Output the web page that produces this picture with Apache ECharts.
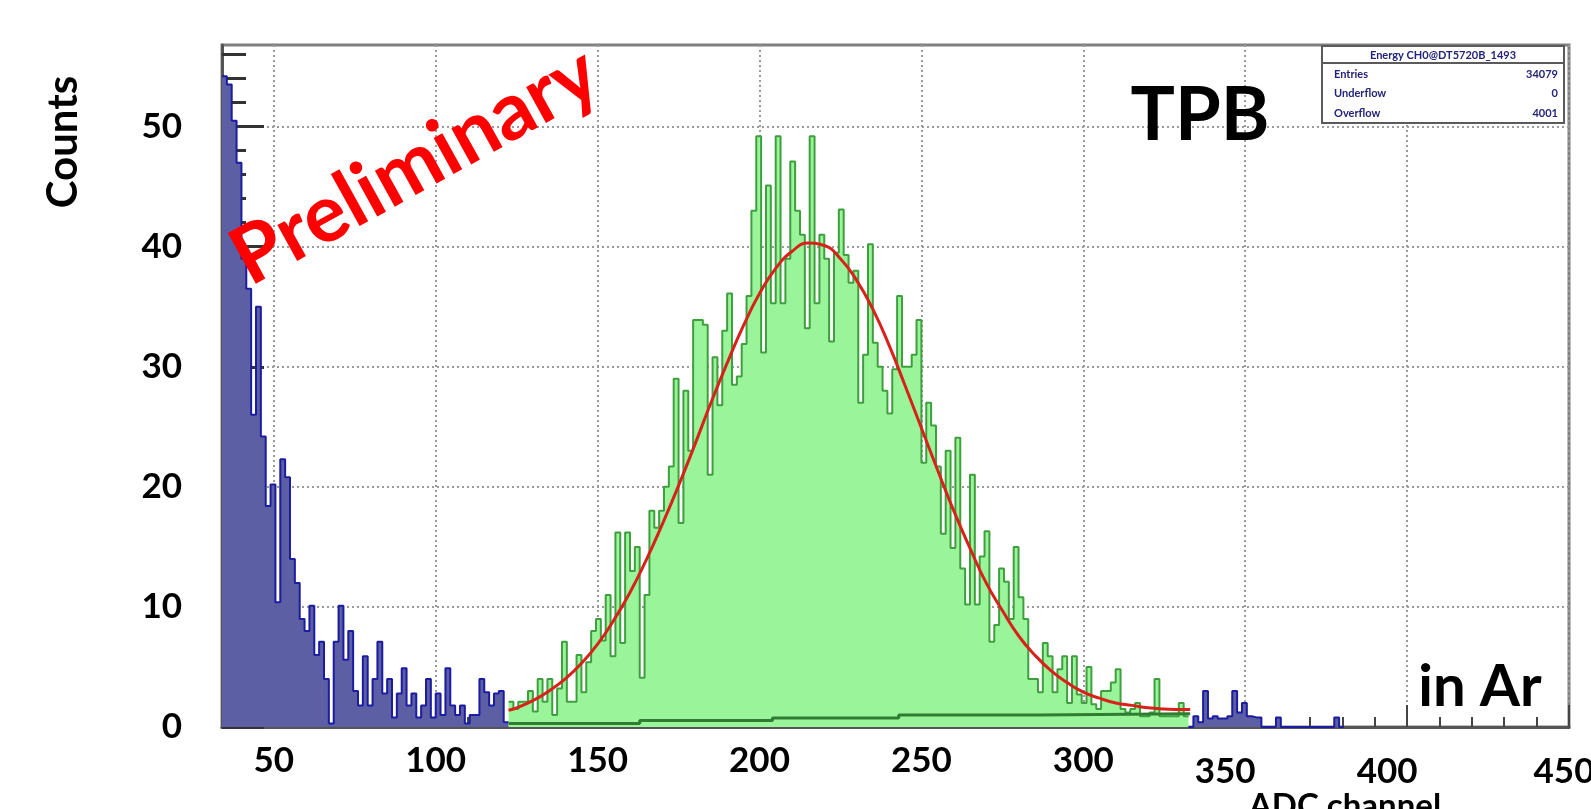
<!DOCTYPE html>
<html>
<head>
<meta charset="utf-8">
<title>TPB in Ar - ADC spectrum</title>
<script src="https://cdn.jsdelivr.net/npm/echarts@6/dist/echarts.min.js"></script>
<style>
  html, body { margin: 0; padding: 0; background: #fff; }
  #main { width: 1591px; height: 809px; }
</style>
</head>
<body>
<div id="main"></div>
<script>
// histogram bins (ADC channel), width 1.5
var binWidth = 1.5;

// low-energy part, blue, bins from 34
var blueStart = 34;
var blueCounts = [
  54.2, 53.5, 50.5, 47, 39, 36.5, 26, 35, 24.2, 18.4,
  20.2, 10.4, 22.3, 20.8, 14, 12, 9, 8, 10.1, 6,
  7.1, 4, 0.3, 7.1, 10.1, 5.6, 8, 3, 1.8, 5.9,
  1.8, 4, 7.1, 2.8, 4, 0.8, 2.8, 4.9, 1.8, 2.8,
  0.8, 1.8, 4, 0.8, 2.8, 1, 4.9, 1.8, 1, 1.8,
  0.3, 1, 1, 4, 2.9, 1.8, 2.8, 3, 0.4
];

// fit range, green, bins from 122.5
var greenStart = 122.5;
var greenCounts = [
  2.1, 1.5, 2.1, 2.1, 3, 1.3, 4, 2.1, 4, 1,
  3.2, 7.1, 2.1, 2.1, 6, 2.9, 5.4, 8, 9, 7.2,
  11, 5.9, 16.2, 7, 16.2, 13, 15, 4.1, 11, 18,
  16.6, 18, 20, 21.7, 29, 17, 28, 23, 33.9, 33.9,
  33.5, 21, 30.8, 26.8, 33, 36.1, 28.5, 29.2, 31.9, 35.9,
  43, 49.2, 31.2, 45.1, 35.3, 49.2, 35.3, 39, 47.1, 43,
  41, 33.2, 49.2, 35.3, 41, 39, 32.1, 39.5, 43.1, 39.3,
  37, 38, 27, 31, 40.2, 32, 30, 28, 26.1, 29.8,
  35.9, 30, 30, 31, 33.9, 22, 27, 25.1, 21.7, 16.1,
  23, 14.9, 24.1, 13.2, 10.2, 21, 10.2, 14.2, 16.3, 7.1,
  8.5, 13.2, 12.1, 9, 15, 10.8, 9, 4, 4, 2.9,
  7, 5.9, 2.9, 4.8, 5.9, 2, 5.9, 2.7, 2, 5,
  1.9, 1.5, 3, 3, 3.7, 4.8, 1.5, 1.2, 1.5, 2,
  0.9, 0.9, 1.2, 4, 0.9, 0.9, 0.9, 0.9, 2, 0.9
];

// high side, blue again, bins from 332.5
var tailStart = 332.5;
var tailCounts = [
  0, 0.9, 0.4, 3, 0.7, 0.9, 0.7, 0.7, 0.9, 3,
  1.2, 2, 0.9, 0.8, 0.8, 0, 0, 0, 0.8, 0,
  0, 0, 0, 0, 0, 0, 0, 0, 0, 0,
  0.8, 0
];

// gaussian fit (red)
var fitX = [122.5, 125, 130, 135, 140, 145, 150, 155, 160, 165, 170, 175, 180, 185, 190, 195,
  200, 205, 210, 215, 220, 225, 230, 235, 240, 245, 250, 255, 260, 265, 270, 275,
  280, 285, 290, 295, 300, 305, 310, 315, 320, 325, 330, 333];
var fitY = [1.4, 1.6, 2.2, 3.0, 4.0, 5.3, 6.9, 8.9, 11.2, 13.9, 16.9, 20.1, 23.5, 27.0, 30.3, 33.4,
  36.1, 38.2, 39.6, 40.3, 40.1, 39.0, 37.2, 34.8, 31.8, 28.4, 24.9, 21.4, 18.0, 14.9, 12.0, 9.7,
  7.6, 6.0, 4.7, 3.7, 2.9, 2.4, 2.0, 1.8, 1.6, 1.5, 1.45, 1.45];

// background level under the peak (dark green)
var bgX = [122.5, 163, 204, 243, 286, 333];
var bgY = [0.3, 0.55, 0.75, 1.0, 1.1, 1.1];

var xTickValues = [50, 100, 150, 200, 250, 300, 350, 400, 450];
var xMinorTickValues = [40, 50, 60, 70, 80, 90, 100, 110, 120, 130, 140, 150, 160, 170, 180, 190,
  200, 210, 220, 230, 240, 250, 260, 270, 280, 290, 300, 310, 320, 330, 340, 350, 360, 370,
  380, 390, 400, 410, 420, 430, 440, 450];
var yTickValues = [0, 10, 20, 30, 40, 50];
var yMinorTickValues = [0, 2, 4, 6, 8, 10, 12, 14, 16, 18, 20, 22, 24, 26, 28, 30, 32, 34, 36,
  38, 40, 42, 44, 46, 48, 50, 52, 54, 56];

var stats = [
  ['Entries', '34079'],
  ['Underflow', '0'],
  ['Overflow', '4001']
];

function stepData(start, counts) {
  var d = [];
  for (var i = 0; i < counts.length; i++) {
    d.push([start + i * binWidth, counts[i]]);
  }
  d.push([start + counts.length * binWidth, counts[counts.length - 1]]);
  return d;
}
function pairs(xs, ys) {
  return xs.map(function (x, i) { return [x, ys[i]]; });
}

var font = 'Lato, "Open Sans", sans-serif';
var gridLine = { show: true, lineStyle: { color: '#9a9a9a', width: 2, type: [2, 3] } };
var tickFont = { fontFamily: font, fontWeight: 'bold', fontSize: 35, color: '#000' };

var myChart = echarts.init(document.getElementById('main'));

var statsGraphics = [
  { type: 'rect', shape: { x: 1322, y: 46, width: 242, height: 77 },
    style: { fill: '#fff', stroke: '#5a5a5a', lineWidth: 2 }, z: 100 },
  { type: 'line', shape: { x1: 1322, y1: 63, x2: 1564, y2: 63 },
    style: { stroke: '#5a5a5a', lineWidth: 2 }, z: 101 },
  { type: 'text', x: 1443, y: 55, z: 101,
    style: { text: 'Energy CH0@DT5720B_1493', fill: '#23237a', font: 'bold 11px ' + font,
      align: 'center', textAlign: 'center', verticalAlign: 'middle', textVerticalAlign: 'middle' } }
];
stats.forEach(function (row, i) {
  statsGraphics.push({ type: 'text', x: 1334, y: 74 + i * 19.5, z: 101,
    style: { text: row[0], fill: '#23237a', font: 'bold 11px ' + font,
      align: 'left', textAlign: 'left', verticalAlign: 'middle', textVerticalAlign: 'middle' } });
  statsGraphics.push({ type: 'text', x: 1558, y: 74 + i * 19.5, z: 101,
    style: { text: row[1], fill: '#23237a', font: 'bold 11px ' + font,
      align: 'right', textAlign: 'right', verticalAlign: 'middle', textVerticalAlign: 'middle' } });
});

function label(text, x, y, size, color, rot) {
  return {
    type: 'text', x: x, y: y, rotation: rot || 0, z: 120,
    style: { text: text, fill: color, font: 'bold ' + size + 'px ' + font,
      align: 'center', textAlign: 'center', verticalAlign: 'middle', textVerticalAlign: 'middle' }
  };
}

var option = {
  animation: false,
  backgroundColor: '#fff',
  grid: {
    left: 222, right: 22, top: 45, bottom: 82,
    outerBoundsMode: 'none',
    containLabel: false,
    show: true, backgroundColor: '#fff', borderColor: '#808080', borderWidth: 3
  },
  xAxis: [
    {
      type: 'value', min: 34, max: 450, position: 'bottom',
      axisLine: { show: true, onZero: false, lineStyle: { color: '#555', width: 3 } },
      axisTick: { show: true, inside: true, length: 22, customValues: xTickValues,
        lineStyle: { color: '#444', width: 2 } },
      axisLabel: {
        show: true, customValues: xTickValues, margin: 16, hideOverlap: false,
        fontFamily: font, fontWeight: 'bold', fontSize: 35, color: '#000',
        formatter: function (v) {
          if (v === 350 || v === 400) return '{s|' + v + '}';
          if (v === 450) return '{e|' + v + '}';
          return '{n|' + v + '}';
        },
        rich: {
          n: tickFont,
          s: Object.assign({ padding: [11, 40, 0, 0] }, tickFont),
          e: Object.assign({ padding: [11, 10, 0, 0] }, tickFont)
        }
      },
      splitLine: gridLine
    },
    {
      type: 'value', min: 34, max: 450, position: 'bottom',
      axisLine: { show: false },
      axisTick: { show: true, inside: true, length: 10, customValues: xMinorTickValues,
        lineStyle: { color: '#444', width: 2 } },
      axisLabel: { show: false },
      splitLine: { show: false }
    }
  ],
  yAxis: [
    {
      type: 'value', min: 0, max: 56.8, position: 'left',
      axisLine: { show: true, onZero: false, lineStyle: { color: '#555', width: 3 } },
      axisTick: { show: true, inside: true, length: 42, customValues: yTickValues,
        lineStyle: { color: '#333', width: 3 } },
      axisLabel: { show: true, customValues: yTickValues, margin: 40,
        fontFamily: font, fontWeight: 'bold', fontSize: 35, color: '#000' },
      splitLine: gridLine
    },
    {
      type: 'value', min: 0, max: 56.8, position: 'left',
      axisLine: { show: false },
      axisTick: { show: true, inside: true, length: 24, customValues: yMinorTickValues,
        lineStyle: { color: '#333', width: 3 } },
      axisLabel: { show: false },
      splitLine: { show: false }
    }
  ],
  series: [
    {
      name: 'low', type: 'line', step: 'end', showSymbol: false, z: 2,
      data: stepData(blueStart, blueCounts),
      lineStyle: { color: '#1c1ca0', width: 2 },
      areaStyle: { color: '#5c5fa3', opacity: 1 }
    },
    {
      name: 'peak', type: 'line', step: 'end', showSymbol: false, z: 2,
      data: stepData(greenStart, greenCounts),
      lineStyle: { color: '#3f9f3f', width: 2 },
      areaStyle: { color: '#9af59a', opacity: 1 }
    },
    {
      name: 'high', type: 'line', step: 'end', showSymbol: false, z: 2,
      data: stepData(tailStart, tailCounts),
      lineStyle: { color: '#1c1ca0', width: 2 },
      areaStyle: { color: '#5c5fa3', opacity: 1 }
    },
    {
      name: 'background', type: 'line', step: 'end', showSymbol: false, z: 3,
      data: pairs(bgX, bgY),
      lineStyle: { color: '#2e7d32', width: 3 }
    },
    {
      name: 'fit', type: 'line', smooth: true, showSymbol: false, z: 4,
      data: pairs(fitX, fitY),
      lineStyle: { color: '#d9211b', width: 3 }
    }
  ],
  graphic: statsGraphics.concat([
    label('Counts', 63, 142, 42, '#000', Math.PI / 2),
    label('Preliminary', 415, 166, 80, '#ff0000', 29 * Math.PI / 180),
    label('TPB', 1200, 116, 74, '#000'),
    label('in Ar', 1480, 687, 58, '#000'),
    label('ADC channel', 1345, 806, 33, '#000')
  ])
};
myChart.setOption(option);
</script>
</body>
</html>
